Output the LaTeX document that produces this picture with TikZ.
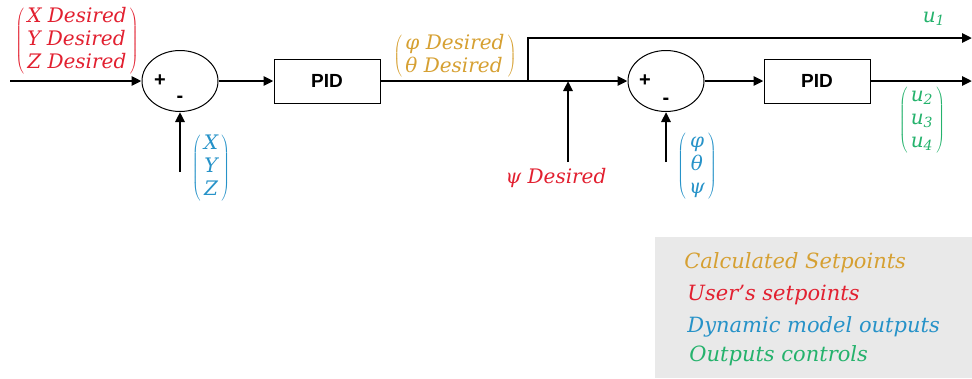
\documentclass[tikz,border=0pt]{standalone}
\usepackage{fontspec}
\setmainfont{DejaVu Serif}
\newfontfamily\pidfont{Liberation Sans}
\usetikzlibrary{shapes.geometric,arrows.meta}
\definecolor{userred}{RGB}{226,32,48}
\definecolor{calcgold}{RGB}{214,160,50}
\definecolor{dynblue}{RGB}{38,146,200}
\definecolor{outgreen}{RGB}{36,178,108}
\definecolor{legendgray}{RGB}{233,233,233}
\begin{document}
\begin{tikzpicture}[x = 1pt, y = -1pt, line width = 2.8pt,
    >={Triangle[length=10pt,width=9pt]},
    sum/.style = {draw, ellipse, line width = 1pt, minimum width = 76pt, minimum height = 61pt},
    pid/.style = {draw, line width = 1pt, minimum width = 106pt, minimum height = 44pt,
        font = \pidfont\bfseries\fontsize{19}{19}\selectfont},
    sign/.style = {font = \pidfont\bfseries\fontsize{20}{20}\selectfont},
    lbl/.style = {inner sep = 0pt, font = \itshape\fontsize{20}{23}\selectfont},
    leg/.style = {anchor = west, inner sep = 0pt, font = \itshape\fontsize{21}{21}\selectfont}]
\useasboundingbox (0,0) rectangle (972,378);
\fill[legendgray] (655,237) rectangle (972,378);
\draw
    (180,81) node[sum](sum1){}
    (327,81) node[pid](pid1){PID}
    (666,81) node[sum](sum2){}
    (817,81) node[pid](pid2){PID};
\coordinate (in) at (10,81);
\coordinate (j) at (528,81);
\coordinate (u1end) at (972,38);
\coordinate (outend) at (972,81);
\coordinate (psif) at (568,162);
\coordinate (psij) at (568,81);
\coordinate (fb1) at (180,172);
\coordinate (fb2) at (666,162);

    \node[sign] at (160,81) {+};
    \node[sign] at (180,99) {-};
    \node[sign] at (645,81) {+};
    \node[sign] at (666,101) {-};

    \draw[->] (in) -- (sum1);
    \draw[->] (sum1) -- (pid1);
    \draw (pid1) -- (j);
    \draw[->] (j) -- (sum2);
    \draw[->] (j) |- (u1end);
    \draw[->] (psif) -- (psij);
    \draw[->] (fb1) -- (sum1);
    \draw[->] (fb2) -- (sum2);
    \draw[->] (sum2) -- (pid2);
    \draw[->] (pid2) -- (outend);

    \node[lbl, text = userred] (xyzd) at (77,41)
        {$\left(\begin{tabular}{@{\,}l@{\,}}X Desired\\ Y Desired\\ Z Desired\end{tabular}\right)$};
    \node[lbl, text = dynblue] (xyz) at (211,168)
        {$\left(\begin{tabular}{@{\,}c@{\,}}X\\ Y\\ Z\end{tabular}\right)$};
    \node[lbl, text = calcgold] (angd) at (455,56)
        {$\left(\begin{tabular}{@{\,}l@{\,}}φ Desired\\ θ Desired\end{tabular}\right)$};
    \node[lbl, text = userred] (psid) at (556,178) {ψ Desired};
    \node[lbl, text = dynblue] (ang) at (697,166)
        {$\left(\begin{tabular}{@{\,}c@{\,}}φ\\ θ\\ ψ\end{tabular}\right)$};
    \node[lbl, text = outgreen] (u1) at (934,19) {u\textsubscript{1}};
    \node[lbl, text = outgreen] (u234) at (922,120)
        {$\left(\begin{tabular}{@{\,}c@{\,}}u\textsubscript{2}\\ u\textsubscript{3}\\ u\textsubscript{4}\end{tabular}\right)$};

    \node[leg, text = calcgold] (l1) at (683,263) {Calculated Setpoints};
    \node[leg, text = userred] (l2) at (686,295) {User's setpoints};
    \node[leg, text = dynblue] (l3) at (686,327) {Dynamic model outputs};
    \node[leg, text = outgreen] (l4) at (688,356) {Outputs controls};
\end{tikzpicture}
\end{document}
